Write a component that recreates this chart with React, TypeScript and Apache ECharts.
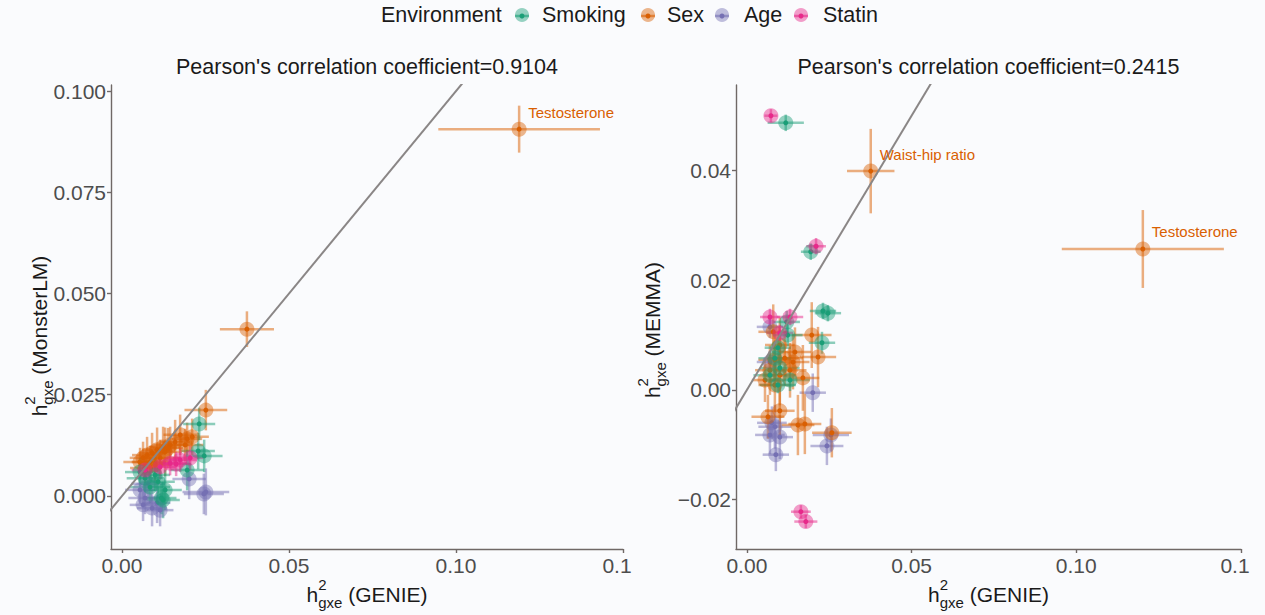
import React, { useEffect, useRef } from 'react';
import * as echarts from 'echarts';

const FONT = '"Liberation Sans", Arial, Helvetica, sans-serif';

// Environments and their colours
const environments = ['Smoking', 'Sex', 'Age', 'Statin'];
const envColors = ['#1B9E77', '#D95F02', '#7570B3', '#E7298A'];

// Each entry: [h2gxe GENIE, h2gxe other method, GENIE half-width, other half-width, label]
type Pt = [number, number, number, number, string?];

// ---- MonsterLM vs GENIE ----
const monsterSmoking: Pt[] = [
  [0.0231, 0.0178, 0.0048, 0.004],
  [0.0228, 0.0111, 0.005, 0.0045],
  [0.0246, 0.0099, 0.0055, 0.004],
  [0.0195, 0.0064, 0.005, 0.005],
  [0.0123, -0.001, 0.005, 0.0045],
  [0.0118, -0.0005, 0.0045, 0.004],
  [0.0084, 0.0022, 0.006, 0.004],
  [0.0069, 0.0044, 0.0055, 0.0035],
  [0.0108, 0.0035, 0.005, 0.004],
  [0.0054, 0.0059, 0.0045, 0.0035],
  [0.0129, 0.0015, 0.005, 0.005],
  [0.0099, 0.0052, 0.0045, 0.004],
];
const monsterSex: Pt[] = [
  [0.1189, 0.0906, 0.0242, 0.0058, 'Testosterone'],
  [0.0374, 0.0412, 0.0081, 0.0044],
  [0.0251, 0.0212, 0.0064, 0.005],
  [0.021, 0.0146, 0.005, 0.0045],
  [0.0195, 0.0141, 0.0045, 0.004],
  [0.0174, 0.0151, 0.005, 0.005],
  [0.0159, 0.0133, 0.0045, 0.0055],
  [0.0144, 0.0126, 0.005, 0.0045],
  [0.0123, 0.0121, 0.004, 0.005],
  [0.0105, 0.0114, 0.0045, 0.0055],
  [0.009, 0.0106, 0.004, 0.005],
  [0.0075, 0.0101, 0.0045, 0.0045],
  [0.0063, 0.0094, 0.004, 0.004],
  [0.0054, 0.0084, 0.005, 0.0035],
  [0.0084, 0.0084, 0.0055, 0.004],
  [0.0114, 0.0094, 0.006, 0.0045],
  [0.0129, 0.0109, 0.005, 0.006],
  [0.0099, 0.0077, 0.005, 0.004],
  [0.0069, 0.0069, 0.0045, 0.0035],
  [0.0189, 0.0126, 0.0055, 0.004],
  [0.0138, 0.0118, 0.0045, 0.005],
];
const monsterAge: Pt[] = [
  [0.0251, 0.001, 0.007, 0.0058],
  [0.0245, 0.0005, 0.006, 0.005],
  [0.0201, 0.0042, 0.005, 0.005],
  [0.0069, -0.0005, 0.005, 0.004],
  [0.009, -0.003, 0.0045, 0.0045],
  [0.0105, -0.0017, 0.004, 0.005],
  [0.0054, 0.0015, 0.0045, 0.0035],
  [0.0078, 0.003, 0.005, 0.0035],
  [0.0114, -0.0035, 0.004, 0.004],
  [0.0063, -0.0022, 0.004, 0.004],
];
const monsterStatin: Pt[] = [
  [0.0174, 0.0089, 0.005, 0.003],
  [0.0204, 0.0094, 0.004, 0.003],
  [0.0144, 0.0081, 0.005, 0.003],
  [0.0114, 0.0072, 0.0045, 0.003],
  [0.0069, 0.0064, 0.004, 0.0025],
  [0.0162, 0.0079, 0.0045, 0.003],
];

// ---- MEMMA vs GENIE ----
const memmaSmoking: Pt[] = [
  [0.0118, 0.0487, 0.0055, 0.0015],
  [0.0194, 0.0252, 0.003, 0.0015],
  [0.0231, 0.0144, 0.004, 0.0015],
  [0.0246, 0.014, 0.004, 0.0015],
  [0.0228, 0.0086, 0.004, 0.002],
  [0.0121, 0.0124, 0.004, 0.002],
  [0.0124, 0.01, 0.0045, 0.002],
  [0.0094, 0.0077, 0.004, 0.002],
  [0.0085, 0.0058, 0.005, 0.002],
  [0.01, 0.004, 0.006, 0.002],
  [0.007, 0.0027, 0.005, 0.0015],
  [0.0131, 0.0018, 0.006, 0.002],
  [0.0094, 0.0009, 0.0055, 0.0015],
];
const memmaSex: Pt[] = [
  [0.1202, 0.0257, 0.0246, 0.0071, 'Testosterone'],
  [0.0376, 0.0399, 0.0072, 0.0077, 'Waist-hip ratio'],
  [0.0197, 0.01, 0.006, 0.006],
  [0.0216, 0.006, 0.0055, 0.0055],
  [0.017, 0.0022, 0.005, 0.006],
  [0.014, 0.0051, 0.005, 0.005],
  [0.0064, -0.0049, 0.005, 0.004],
  [0.01, -0.0038, 0.0045, 0.005],
  [0.0155, -0.0064, 0.005, 0.0055],
  [0.0176, -0.0062, 0.005, 0.0055],
  [0.0258, -0.0078, 0.006, 0.0045],
  [0.0085, 0.0055, 0.005, 0.005],
  [0.0115, 0.0058, 0.0055, 0.005],
  [0.007, 0.0036, 0.0045, 0.0045],
  [0.01, 0.0027, 0.005, 0.0055],
  [0.0131, 0.0036, 0.005, 0.005],
  [0.0055, 0.0018, 0.004, 0.004],
  [0.0085, 0.0009, 0.005, 0.005],
  [0.0146, 0.0069, 0.005, 0.0045],
  [0.01, 0.0082, 0.0045, 0.005],
  [0.008, 0.0106, 0.0045, 0.005],
];
const memmaAge: Pt[] = [
  [0.02, -0.0005, 0.004, 0.0035],
  [0.0085, -0.0067, 0.005, 0.004],
  [0.007, -0.0082, 0.0045, 0.0035],
  [0.01, -0.0086, 0.004, 0.004],
  [0.0088, -0.0118, 0.004, 0.003],
  [0.0255, -0.0082, 0.0055, 0.003],
  [0.0243, -0.0102, 0.005, 0.0035],
  [0.007, 0.0115, 0.004, 0.002],
  [0.0076, -0.006, 0.0045, 0.003],
  [0.007, 0.0051, 0.004, 0.002],
];
const memmaStatin: Pt[] = [
  [0.0073, 0.05, 0.002, 0.0012],
  [0.021, 0.0262, 0.003, 0.0015],
  [0.007, 0.0133, 0.003, 0.0015],
  [0.0131, 0.0133, 0.004, 0.0015],
  [0.01, 0.0104, 0.004, 0.0015],
  [0.0164, -0.0222, 0.003, 0.0012],
  [0.0179, -0.024, 0.0035, 0.0012],
];

const pearson = [0.9104, 0.2415];
const yMethods = ['MonsterLM', 'MEMMA'];

// Axis ticks and limits
const xTicks = [0, 0.05, 0.1, 0.15];
const xTickLabels = ['0.00', '0.05', '0.10', '0.1'];
const xLimits = [-0.0033, 0.15];
const monsterYTicks = [0, 0.025, 0.05, 0.075, 0.1];
const monsterYLabels = ['0.000', '0.025', '0.050', '0.075', '0.100'];
const monsterYLimits = [-0.0131, 0.1015];
const memmaYTicks = [-0.02, 0, 0.02, 0.04];
const memmaYLabels = ['\u22120.02', '0.00', '0.02', '0.04'];
const memmaYLimits = [-0.029, 0.0556];

const AXIS_COLOR = '#6F6866';
const TICK_TEXT = '#4D4D4D';
const TEXT = '#1A1A1A';
const TICK_SIZE = 21;
const TITLE_SIZE = 21.5;
const AXIS_TITLE_SIZE = 21;
const SCRIPT_SIZE = 15;

function rgba(hex: string, a: number) {
  const n = parseInt(hex.slice(1), 16);
  return `rgba(${(n >> 16) & 255},${(n >> 8) & 255},${n & 255},${a})`;
}

let measureCtx: CanvasRenderingContext2D | null = null;
function textWidth(s: string, size: number) {
  if (!measureCtx) measureCtx = document.createElement('canvas').getContext('2d');
  measureCtx!.font = `${size}px ${FONT}`;
  return measureCtx!.measureText(s).width;
}

function txt(text: string, x: number, y: number, size: number, fill: string, align = 'left') {
  return {
    type: 'text',
    x,
    y,
    style: {
      text,
      fill,
      fontSize: size,
      fontFamily: FONT,
      align,
      textAlign: align,
      verticalAlign: 'middle',
      textVerticalAlign: 'middle',
    },
  };
}

// h^2_gxe (method) axis title, centred on (cx, cy)
function mathTitle(main: string, cx: number, cy: number, vertical: boolean) {
  const wh = textWidth('h', AXIS_TITLE_SIZE);
  const ws = textWidth('gxe', SCRIPT_SIZE);
  const wm = textWidth(main, AXIS_TITLE_SIZE);
  const x0 = -(wh + ws + wm) / 2;
  return {
    type: 'group',
    x: cx,
    y: cy,
    rotation: vertical ? Math.PI / 2 : 0,
    children: [
      txt('h', x0, 0, AXIS_TITLE_SIZE, TEXT),
      txt('2', x0 + wh, -10, SCRIPT_SIZE, TEXT),
      txt('gxe', x0 + wh, 8, SCRIPT_SIZE, TEXT),
      txt(main, x0 + wh + ws, 0, AXIS_TITLE_SIZE, TEXT),
    ],
  };
}

function errorBarSeries(points: Pt[], color: string, axis: number) {
  return {
    type: 'custom',
    xAxisIndex: axis,
    yAxisIndex: axis,
    clip: true,
    z: 2,
    silent: true,
    data: points.map((p) => [p[0], p[1], p[2], p[3]]),
    renderItem: (_params: any, api: any) => {
      const x = api.value(0);
      const y = api.value(1);
      const ex = api.value(2);
      const ey = api.value(3);
      const l = api.coord([x - ex, y]);
      const r = api.coord([x + ex, y]);
      const t = api.coord([x, y + ey]);
      const b = api.coord([x, y - ey]);
      const stroke = rgba(color, 0.5);
      return {
        type: 'group',
        children: [
          { type: 'line', shape: { x1: l[0], y1: l[1], x2: r[0], y2: r[1] }, style: { stroke, lineWidth: 2.5 } },
          { type: 'line', shape: { x1: t[0], y1: t[1], x2: b[0], y2: b[1] }, style: { stroke, lineWidth: 2.5 } },
        ],
      };
    },
  };
}

function pointSeries(points: Pt[], color: string, axis: number) {
  return {
    type: 'custom',
    xAxisIndex: axis,
    yAxisIndex: axis,
    clip: true,
    z: 3,
    silent: true,
    data: points.map((p) => [p[0], p[1]]),
    renderItem: (_params: any, api: any) => {
      const c = api.coord([api.value(0), api.value(1)]);
      return {
        type: 'group',
        children: [
          { type: 'circle', shape: { cx: c[0], cy: c[1], r: 7.5 }, style: { fill: rgba(color, 0.45) } },
          { type: 'circle', shape: { cx: c[0], cy: c[1], r: 2.5 }, style: { fill: color } },
        ],
      };
    },
  };
}

function labelSeries(points: Pt[], color: string, axis: number) {
  const named = points.filter((p) => p[4]);
  return {
    type: 'custom',
    xAxisIndex: axis,
    yAxisIndex: axis,
    z: 6,
    silent: true,
    data: named.map((p) => [p[0], p[1]]),
    renderItem: (params: any, api: any) => {
      const c = api.coord([api.value(0), api.value(1)]);
      return txt(named[params.dataIndex][4] as string, c[0] + 9, c[1] - 17, 15, color);
    },
  };
}

function tickFormatter(ticks: number[], labels: string[]) {
  return (v: number) => {
    let best = 0;
    ticks.forEach((t, i) => {
      if (Math.abs(t - v) < Math.abs(ticks[best] - v)) best = i;
    });
    // the right-most label is cut by the plot edge; keep it left-anchored like the full text
    return best === ticks.length - 1 && labels === xTickLabels ? `{cut|${labels[best]}}` : labels[best];
  };
}

const grids = [
  { left: 111, top: 85, width: 512, height: 464 },
  { left: 736, top: 85, width: 505, height: 464 },
];

function xAxis(gridIndex: number) {
  return {
    type: 'value',
    gridIndex,
    min: xLimits[0],
    max: xLimits[1],
    splitLine: { show: false },
    axisLine: { show: true, onZero: false, lineStyle: { color: AXIS_COLOR, width: 1.4 } },
    axisTick: { show: true, length: 4, customValues: xTicks, lineStyle: { color: AXIS_COLOR, width: 1.4 } },
    axisLabel: {
      customValues: xTicks,
      formatter: tickFormatter(xTicks, xTickLabels),
      fontSize: TICK_SIZE,
      fontFamily: FONT,
      color: TICK_TEXT,
      margin: 6,
      rich: { cut: { fontSize: TICK_SIZE, fontFamily: FONT, color: TICK_TEXT, padding: [0, 12, 0, 0] } },
    },
  };
}

function yAxis(gridIndex: number, ticks: number[], labels: string[], lim: number[]) {
  return {
    type: 'value',
    gridIndex,
    min: lim[0],
    max: lim[1],
    splitLine: { show: false },
    axisLine: { show: true, onZero: false, lineStyle: { color: AXIS_COLOR, width: 1.4 } },
    axisTick: { show: true, length: 4, customValues: ticks, lineStyle: { color: AXIS_COLOR, width: 1.4 } },
    axisLabel: {
      customValues: ticks,
      formatter: tickFormatter(ticks, labels),
      fontSize: TICK_SIZE,
      fontFamily: FONT,
      color: TICK_TEXT,
      margin: 5,
    },
  };
}

function identityLine(axis: number) {
  return {
    type: 'line',
    xAxisIndex: axis,
    yAxisIndex: axis,
    data: [
      [-1, -1],
      [1, 1],
    ],
    symbol: 'none',
    clip: true,
    silent: true,
    z: 5,
    lineStyle: { color: '#8A8686', width: 2 },
  };
}

function panelSeries(groups: Pt[][], axis: number) {
  const order = [2, 1, 0, 3];
  const out: any[] = [];
  order.forEach((i) => out.push(errorBarSeries(groups[i], envColors[i], axis)));
  order.forEach((i) => out.push(pointSeries(groups[i], envColors[i], axis)));
  out.push(identityLine(axis));
  groups.forEach((g, i) => out.push(labelSeries(g, envColors[i], axis)));
  return out;
}

function legendGraphics() {
  const keyX = [522, 648, 722, 801];
  const textX = [542, 667, 744, 823];
  const y = 15;
  const els: any[] = [txt('Environment', 381, y, TITLE_SIZE, TEXT)];
  environments.forEach((name, i) => {
    const c = envColors[i];
    els.push({ type: 'circle', shape: { cx: keyX[i], cy: y, r: 7 }, style: { fill: rgba(c, 0.45) } });
    els.push({
      type: 'line',
      shape: { x1: keyX[i] - 7, y1: y + 1, x2: keyX[i] + 7, y2: y + 1 },
      style: { stroke: rgba(c, 0.6), lineWidth: 2.5 },
    });
    els.push({ type: 'circle', shape: { cx: keyX[i], cy: y + 1, r: 2.5 }, style: { fill: c } });
    els.push(txt(name, textX[i], y, TITLE_SIZE, TEXT));
  });
  return els;
}

function buildOption() {
  const monster = [monsterSmoking, monsterSex, monsterAge, monsterStatin];
  const memma = [memmaSmoking, memmaSex, memmaAge, memmaStatin];
  const centers = grids.map((g) => g.left + g.width / 2);
  const yTitleX = [39, 652];
  const yTitleY = [336, 330];
  return {
    animation: false,
    backgroundColor: '#FAFBFD',
    grid: grids,
    xAxis: [xAxis(0), xAxis(1)],
    yAxis: [
      yAxis(0, monsterYTicks, monsterYLabels, monsterYLimits),
      yAxis(1, memmaYTicks, memmaYLabels, memmaYLimits),
    ],
    series: [...panelSeries(monster, 0), ...panelSeries(memma, 1)],
    graphic: [
      ...legendGraphics(),
      ...pearson.map((r, i) =>
        txt(`Pearson's correlation coefficient=${r.toFixed(4)}`, centers[i], 67, TITLE_SIZE, TEXT, 'center')
      ),
      ...centers.map((cx) => mathTitle(' (GENIE)', cx, 594, false)),
      ...yMethods.map((m, i) => mathTitle(` (${m})`, yTitleX[i], yTitleY[i], true)),
    ],
  };
}

export default function App() {
  const ref = useRef<HTMLDivElement>(null);
  useEffect(() => {
    const chart = echarts.init(ref.current!, null, { renderer: 'svg' });
    chart.setOption(buildOption() as any);
    return () => chart.dispose();
  }, []);
  return <div ref={ref} style={{ position: 'fixed', left: 0, top: 0, width: 1265, height: 615 }} />;
}
